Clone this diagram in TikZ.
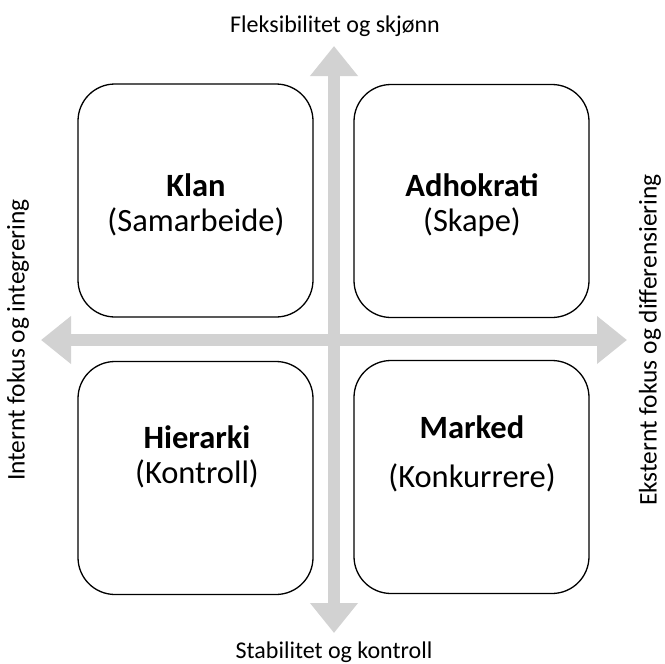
\documentclass[tikz,border=0pt]{standalone}
\usepackage{fontspec}
\setmainfont{Carlito}
\usetikzlibrary{arrows.meta}
\definecolor{aksegraa}{RGB}{210,210,210}
\begin{document}
\begin{tikzpicture}[x=1pt,y=-1pt]
			\tikzset{boks/.style={draw=black, line width=1.3pt, rounded corners=37pt, minimum width=235pt, minimum height=233pt, inner sep=0pt},
			akse/.style={draw=aksegraa, line width=12pt, {Triangle[width=46pt,length=30pt]}-{Triangle[width=46pt,length=30pt]}},
			tittel/.style={font=\fontsize{32.5}{35}\selectfont, align=center},
			aksetekst/.style={font=\fontsize{24}{28}\selectfont}};

			\useasboundingbox (0,0) rectangle (665,664);

			% aksene
			\coordinate (topp) at (334,46);
			\coordinate (bunn) at (334,633);
			\coordinate (venstre) at (41,340);
			\coordinate (hoyre) at (627,340);
			\draw[akse] (venstre) -- (hoyre);
			\draw[akse] (topp) -- (bunn);

			% de fire boksene
			\foreach \navn/\x/\y in {klan/195.5/200.5, adhokrati/471.5/201, hierarki/195.5/478, marked/471.5/477}{
				\node[boks] (\navn) at (\x,\y) {};
			}

			\node[tittel] (klantekst) at (196,205) {\textbf{Klan}\\(Samarbeide)};
			\node[tittel] (adhokratitekst) at (472,205) {\textbf{Adhokrati}\\(Skape)};
			\node[tittel] (hierarkitekst) at (197,457) {\textbf{Hierarki}\\(Kontroll)};
			\node[tittel] (markedtekst) at (472,454) {\textbf{Marked}\\[14pt](Konkurrere)};

			% aksetekster
			\node[aksetekst] (fleks) at (335,26) {Fleksibilitet og skjønn};
			\node[aksetekst] (stab) at (334,652) {Stabilitet og kontroll};
			\node[aksetekst, rotate=90, scale=1.06] (intern) at (18,340) {Internt fokus og integrering};
			\node[aksetekst, rotate=90, scale=1.06] (ekstern) at (650,340) {Eksternt fokus og differensiering};

		\end{tikzpicture}
\end{document}
